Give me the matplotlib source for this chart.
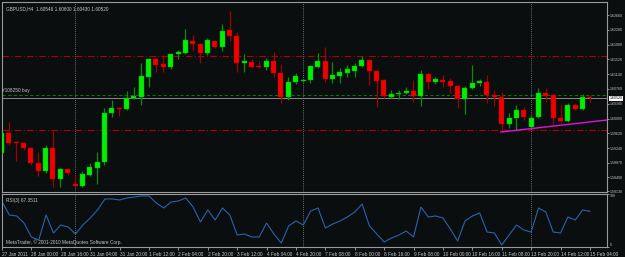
import matplotlib
matplotlib.use('Agg')
import matplotlib.pyplot as plt
import matplotlib.transforms as mtransforms
import numpy as np

plt.rcParams['font.family'] = ['Liberation Sans', 'DejaVu Sans']

# GBPUSD H4 candles
opens = [1.5911, 1.5963, 1.5940, 1.5937, 1.5924, 1.5886, 1.5865, 1.5924, 1.5845, 1.5870,
         1.5832, 1.5827, 1.5855, 1.5873, 1.5888, 1.6014, 1.6027, 1.6025, 1.6053, 1.6055,
         1.6107, 1.6153, 1.6140, 1.6132, 1.6166, 1.6168, 1.6199, 1.6192, 1.6168, 1.6199,
         1.6184, 1.6227, 1.6212, 1.6143, 1.6145, 1.6135, 1.6132, 1.6148, 1.6117, 1.6055,
         1.6094, 1.6096, 1.6099, 1.6132, 1.6148, 1.6102, 1.6109, 1.6117, 1.6122, 1.6135,
         1.6150, 1.6122, 1.6099, 1.6055, 1.6063, 1.6066, 1.6071, 1.6058, 1.6114, 1.6094,
         1.6099, 1.6096, 1.6084, 1.6050, 1.6078, 1.6091, 1.6094, 1.6060, 1.6055, 1.5986,
         1.6001, 1.6022, 1.5978, 1.6004, 1.6066, 1.6060, 1.6001, 1.5994, 1.6035, 1.6025,
         1.60546]
highs = [1.5976, 1.5991, 1.5942, 1.5940, 1.5927, 1.5914, 1.5932, 1.5968, 1.5873, 1.5873,
         1.5855, 1.5865, 1.5886, 1.5914, 1.6027, 1.6048, 1.6030, 1.6071, 1.6081, 1.6143,
         1.6156, 1.6156, 1.6163, 1.6168, 1.6176, 1.6230, 1.6215, 1.6194, 1.6207, 1.6202,
         1.6243, 1.6276, 1.6222, 1.6166, 1.6153, 1.6148, 1.6155, 1.6171, 1.6140, 1.6107,
         1.6117, 1.6102, 1.6138, 1.6168, 1.6184, 1.6145, 1.6130, 1.6138, 1.6143, 1.6161,
         1.6153, 1.6125, 1.6102, 1.6073, 1.6073, 1.6081, 1.6099, 1.6125, 1.6117, 1.6107,
         1.6112, 1.6104, 1.6086, 1.6084, 1.6138, 1.6102, 1.6112, 1.6073, 1.6068, 1.6014,
         1.6035, 1.6030, 1.6009, 1.6078, 1.6078, 1.6063, 1.6037, 1.6040, 1.6040, 1.6063,
         1.6060]
lows = [1.5904, 1.5932, 1.5891, 1.5919, 1.5881, 1.5852, 1.5860, 1.5824, 1.5824, 1.5855,
        1.5824, 1.5824, 1.5852, 1.5832, 1.5881, 1.6004, 1.6007, 1.6022, 1.6050, 1.6035,
        1.6081, 1.6120, 1.6120, 1.6127, 1.6153, 1.6166, 1.6174, 1.6143, 1.6163, 1.6181,
        1.6174, 1.6199, 1.6120, 1.6120, 1.6130, 1.6130, 1.6125, 1.6107, 1.6040, 1.6048,
        1.6089, 1.6094, 1.6091, 1.6130, 1.6094, 1.6091, 1.6091, 1.6107, 1.6107, 1.6132,
        1.6086, 1.6030, 1.6053, 1.6053, 1.6050, 1.6063, 1.6043, 1.6032, 1.6076, 1.6089,
        1.6081, 1.6066, 1.6027, 1.6012, 1.6076, 1.6084, 1.6040, 1.6032, 1.5965, 1.5976,
        1.5971, 1.5996, 1.5976, 1.6001, 1.6043, 1.5983, 1.5989, 1.5991, 1.6022, 1.6022,
        1.6043]
closes = [1.5963, 1.5937, 1.5936, 1.5924, 1.5886, 1.5865, 1.5924, 1.5845, 1.5870, 1.5860,
          1.5827, 1.5857, 1.5875, 1.5888, 1.6014, 1.6027, 1.6025, 1.6053, 1.6058, 1.6109,
          1.6153, 1.6138, 1.6132, 1.6166, 1.6171, 1.6202, 1.6192, 1.6168, 1.6202, 1.6184,
          1.6225, 1.6212, 1.6143, 1.6148, 1.6132, 1.6132, 1.6148, 1.6117, 1.6055, 1.6094,
          1.6109, 1.6099, 1.6135, 1.6148, 1.6102, 1.6112, 1.6120, 1.6127, 1.6135, 1.6150,
          1.6122, 1.6096, 1.6058, 1.6063, 1.6066, 1.6071, 1.6058, 1.6114, 1.6094, 1.6102,
          1.6094, 1.6084, 1.6050, 1.6078, 1.6091, 1.6096, 1.6060, 1.6055, 1.5986, 1.6001,
          1.6022, 1.6004, 1.6001, 1.6066, 1.6058, 1.6001, 1.5994, 1.6035, 1.6025, 1.6055,
          1.6052]

rsi = [85.5, 60.4, 58.5, 45.3, 18.9, 13.2, 60.4, 26.4, 41.5, 37.7,
       24.5, 41.5, 54.7, 69.8, 90.6, 90.6, 88.7, 92.5, 94.3, 96.5,
       96.2, 83.0, 73.6, 84.9, 86.8, 92.5, 75.5, 47.2, 69.8, 50.9,
       73.6, 60.4, 22.6, 24.5, 18.9, 18.9, 45.3, 24.5, 7.5, 39.6,
       49.1, 41.5, 67.9, 73.6, 35.8, 43.4, 49.1, 56.6, 66.0, 81.1,
       39.6, 24.5, 9.4, 17.0, 22.6, 30.2, 18.9, 75.5, 56.6, 58.5,
       54.7, 34.0, 11.3, 49.1, 58.5, 64.2, 28.3, 26.4, 3.8, 22.6,
       41.5, 32.1, 28.3, 73.6, 66.0, 28.3, 26.4, 56.6, 50.9, 69.8,
       67.35]

xtick_bars = list(range(0, 81, 4))
xtick_labels = ['27 Jan 2011', '28 Jan 00:00', '28 Jan 16:00', '31 Jan 04:00', '31 Jan 20:00',
                '1 Feb 12:00', '2 Feb 04:00', '2 Feb 20:00', '3 Feb 12:00', '4 Feb 04:00',
                '4 Feb 20:00', '7 Feb 08:00', '8 Feb 00:00', '8 Feb 16:00', '9 Feb 08:00',
                '10 Feb 00:00', '10 Feb 16:00', '11 Feb 08:00', '13 Feb 20:00', '14 Feb 12:00',
                '15 Feb 04:00']
price_ticks = [1.62660, 1.62280, 1.61900, 1.61520, 1.61140, 1.60760, 1.60380,
               1.60000, 1.59620, 1.59240, 1.58870, 1.58490, 1.58130]

week_starts = [10, 41, 72]
red_levels = [1.61607, 1.59705]
buy_price = 1.60605
bid = 1.60520
trend_x = [67.9, 82.3]
trend_y = [1.59653, 1.59962]

bg = '#0a0e0e'
fg = '#c8c8c8'
fs = 3.4
fs_r = 2.6  # right-hand price scale is very narrow

W, H = 625, 257
fig = plt.figure(figsize=(W / 100, H / 100), dpi=100, facecolor=bg)
ax = fig.add_axes([2 / W, (H - 192) / H, 605 / W, 190 / H], facecolor=bg)
ax2 = fig.add_axes([2 / W, (H - 247) / H, 605 / W, 53 / H], facecolor=bg)

x = np.arange(len(opens))
o = np.array(opens); c = np.array(closes)
up = c >= o

ax.vlines(x[up], np.array(lows)[up], np.array(highs)[up], color='#0b8c0b', lw=0.9, zorder=3)
ax.vlines(x[~up], np.array(lows)[~up], np.array(highs)[~up], color='#a00000', lw=0.9, zorder=3)
body_h = np.maximum(np.abs(c - o), 0.00006)
ax.bar(x[up], body_h[up], bottom=np.minimum(o, c)[up], width=0.68,
       color='#00f000', edgecolor='#00b000', lw=0.3, zorder=4)
ax.bar(x[~up], body_h[~up], bottom=np.minimum(o, c)[~up], width=0.68,
       color='#f00000', edgecolor='#b00000', lw=0.3, zorder=4)

for lv in red_levels:
    ax.axhline(lv, color='#b00000', lw=0.8, ls=(0, (6, 2, 1, 2)), zorder=2)
ax.axhline(buy_price, color='#0c6e0c', lw=0.8, ls=(0, (3, 2)), zorder=2)
ax.axhline(bid, color='#8a8a8a', lw=0.7, zorder=2)
ax.plot(trend_x, trend_y, color='#e010e0', lw=1.0, zorder=5)

for a in (ax, ax2):
    for wk in week_starts:
        a.axvline(wk, color='#909090', lw=0.6, ls=(0, (1, 1.5)), zorder=1)
    a.set_xlim(0.07, 82.32)
    for s in a.spines.values():
        s.set_color('#9a9a9a')
        s.set_linewidth(0.8)

ax.set_ylim(1.58112, 1.62995)
ax.yaxis.tick_right()
ax.set_yticks(price_ticks)
ax.set_yticklabels(['%.5f' % p for p in price_ticks])
ax.tick_params(axis='y', labelsize=fs_r, colors=fg, length=1.5, width=0.5, pad=0.8)
ax.set_xticks([])

tr = mtransforms.blended_transform_factory(ax.transAxes, ax.transData)
ax.text(1.004, bid, '%.5f' % bid, transform=tr, fontsize=fs_r, color='black', va='center',
        bbox=dict(facecolor='white', edgecolor='none', pad=0.5), zorder=6, clip_on=False)
ax.text(0.006, buy_price + 0.0004, '#108250 buy', fontsize=fs, color=fg, va='bottom')
ax.text(0.006, 0.975, 'GBPUSD,H4  1.60546 1.60600 1.60430 1.60520', transform=ax.transAxes,
        fontsize=fs, color=fg, va='top')

ax2.plot(x, rsi, color='#2a62b0', lw=0.8)
ax2.set_ylim(0, 100)
ax2.yaxis.tick_right()
ax2.set_yticks([100, 0])
ax2.set_yticklabels(['100', '0'])
for lab, va in zip(ax2.get_yticklabels(), ['top', 'bottom']):
    lab.set_va(va)
ax2.tick_params(axis='y', labelsize=fs_r, colors=fg, length=1.5, width=0.5, pad=0.8)
ax2.set_xticks(xtick_bars)
ax2.set_xticklabels(xtick_labels)
for lab in ax2.get_xticklabels():
    lab.set_ha('left')
ax2.tick_params(axis='x', labelsize=fs, colors=fg, length=2, width=0.5, pad=1.5)
ax2.text(0.006, 0.92, 'RSI(3) 67.3511', transform=ax2.transAxes, fontsize=fs, color=fg, va='top')
ax2.text(0.006, 0.03, 'MetaTrader, \u00a9 2001-2010 MetaQuotes Software Corp.',
         transform=ax2.transAxes, fontsize=fs, color=fg, va='bottom')

fig.savefig('out.png', dpi=100, facecolor=bg)
